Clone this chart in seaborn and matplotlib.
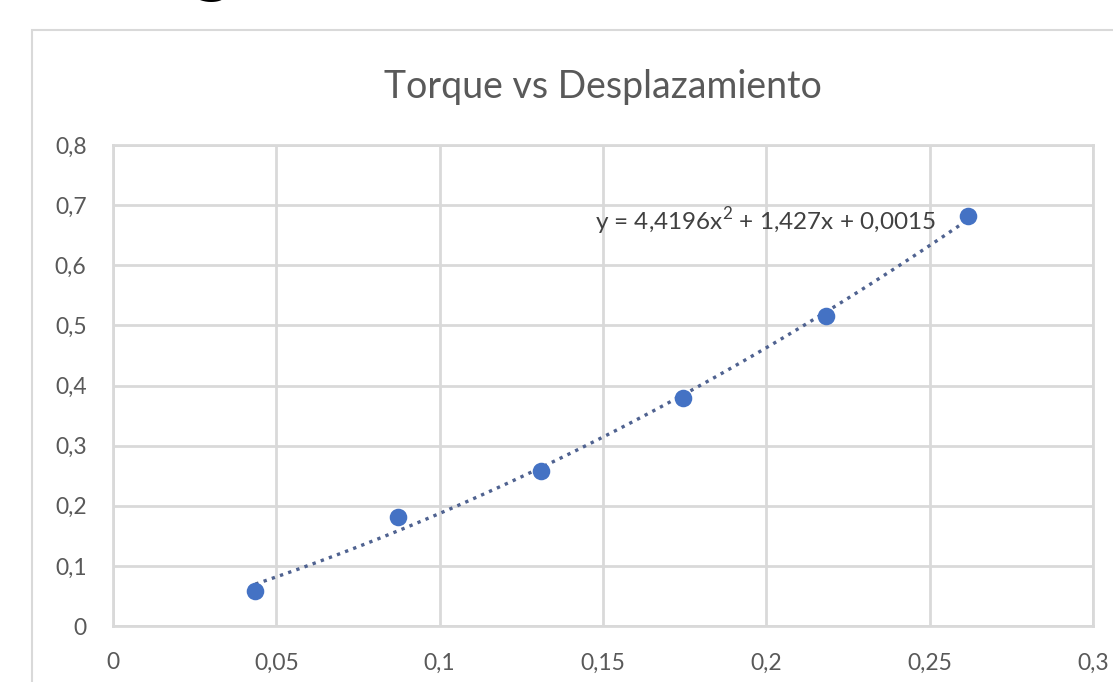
import numpy as np
import pandas as pd
import matplotlib
matplotlib.use('Agg')
import matplotlib.pyplot as plt
import seaborn as sns
from matplotlib.patches import Rectangle

# Datos: desplazamiento (rad) y torque
desplazamiento = [0.0436, 0.0873, 0.1309, 0.1745, 0.2182, 0.2618]
torque = [0.058, 0.182, 0.257, 0.379, 0.516, 0.682]

x_ticks = [0, 0.05, 0.1, 0.15, 0.2, 0.25, 0.3]
x_labels = ['0', '0,05', '0,1', '0,15', '0,2', '0,25', '0,3']
y_ticks = [0, 0.1, 0.2, 0.3, 0.4, 0.5, 0.6, 0.7, 0.8]
y_labels = ['0', '0,1', '0,2', '0,3', '0,4', '0,5', '0,6', '0,7', '0,8']

ecuacion = 'y = 4,4196x$^2$ + 1,427x + 0,0015'

df = pd.DataFrame({'Desplazamiento': desplazamiento, 'Torque': torque})

sns.set_style('white')
plt.rcParams['font.family'] = ['Lato', 'DejaVu Sans']
plt.rcParams['mathtext.fontset'] = 'custom'
plt.rcParams['mathtext.rm'] = 'Lato'

fig = plt.figure(figsize=(11.13, 6.82), dpi=100)
ax = fig.add_axes([0.1015, 0.0821, 0.8805, 0.7053])

# borde del área del gráfico (recortado)
fig.patches.append(Rectangle((0.0288, -0.2), 1.2, 0.2 + 0.956, transform=fig.transFigure,
                             fill=False, edgecolor='#d9d9d9', linewidth=1.5))

# texto cortado en la parte superior de la captura
fig.text(0.192, 1.014, 'g', fontsize=40, fontweight='bold', color='black',
         ha='center', va='baseline', family='DejaVu Sans')

# línea de tendencia polinómica (orden 2)
sns.regplot(data=df, x='Desplazamiento', y='Torque', order=2, ci=None, scatter=False,
            truncate=True, ax=ax,
            line_kws={'color': '#4f6290', 'linestyle': (0, (1, 1.6)), 'linewidth': 2.4})
sns.scatterplot(data=df, x='Desplazamiento', y='Torque', ax=ax, s=160,
                color='#4472C4', edgecolor='#4472C4', linewidth=0, zorder=4)

ax.set_xlim(0, 0.3)
ax.set_ylim(0, 0.8)
ax.set_xticks(x_ticks)
ax.set_xticklabels(x_labels)
ax.set_yticks(y_ticks)
ax.set_yticklabels(y_labels)
ax.tick_params(axis='x', length=0, pad=19, labelsize=16.5, labelcolor='#595959')
ax.tick_params(axis='y', length=0, pad=19, labelsize=16.5, labelcolor='#595959')
ax.set_xlabel('')
ax.set_ylabel('')
ax.grid(True, color='#d9d9d9', linewidth=2)
ax.set_axisbelow(True)
for s in ax.spines.values():
    s.set_color('#d9d9d9')
    s.set_linewidth(2)

ax.set_title('Torque vs Desplazamiento', fontsize=27, color='#595959', pad=34)
ax.text(0.1475, 0.674, ecuacion, fontsize=17.5, color='#404040', va='center', ha='left')

fig.savefig('out.png', dpi=100)
